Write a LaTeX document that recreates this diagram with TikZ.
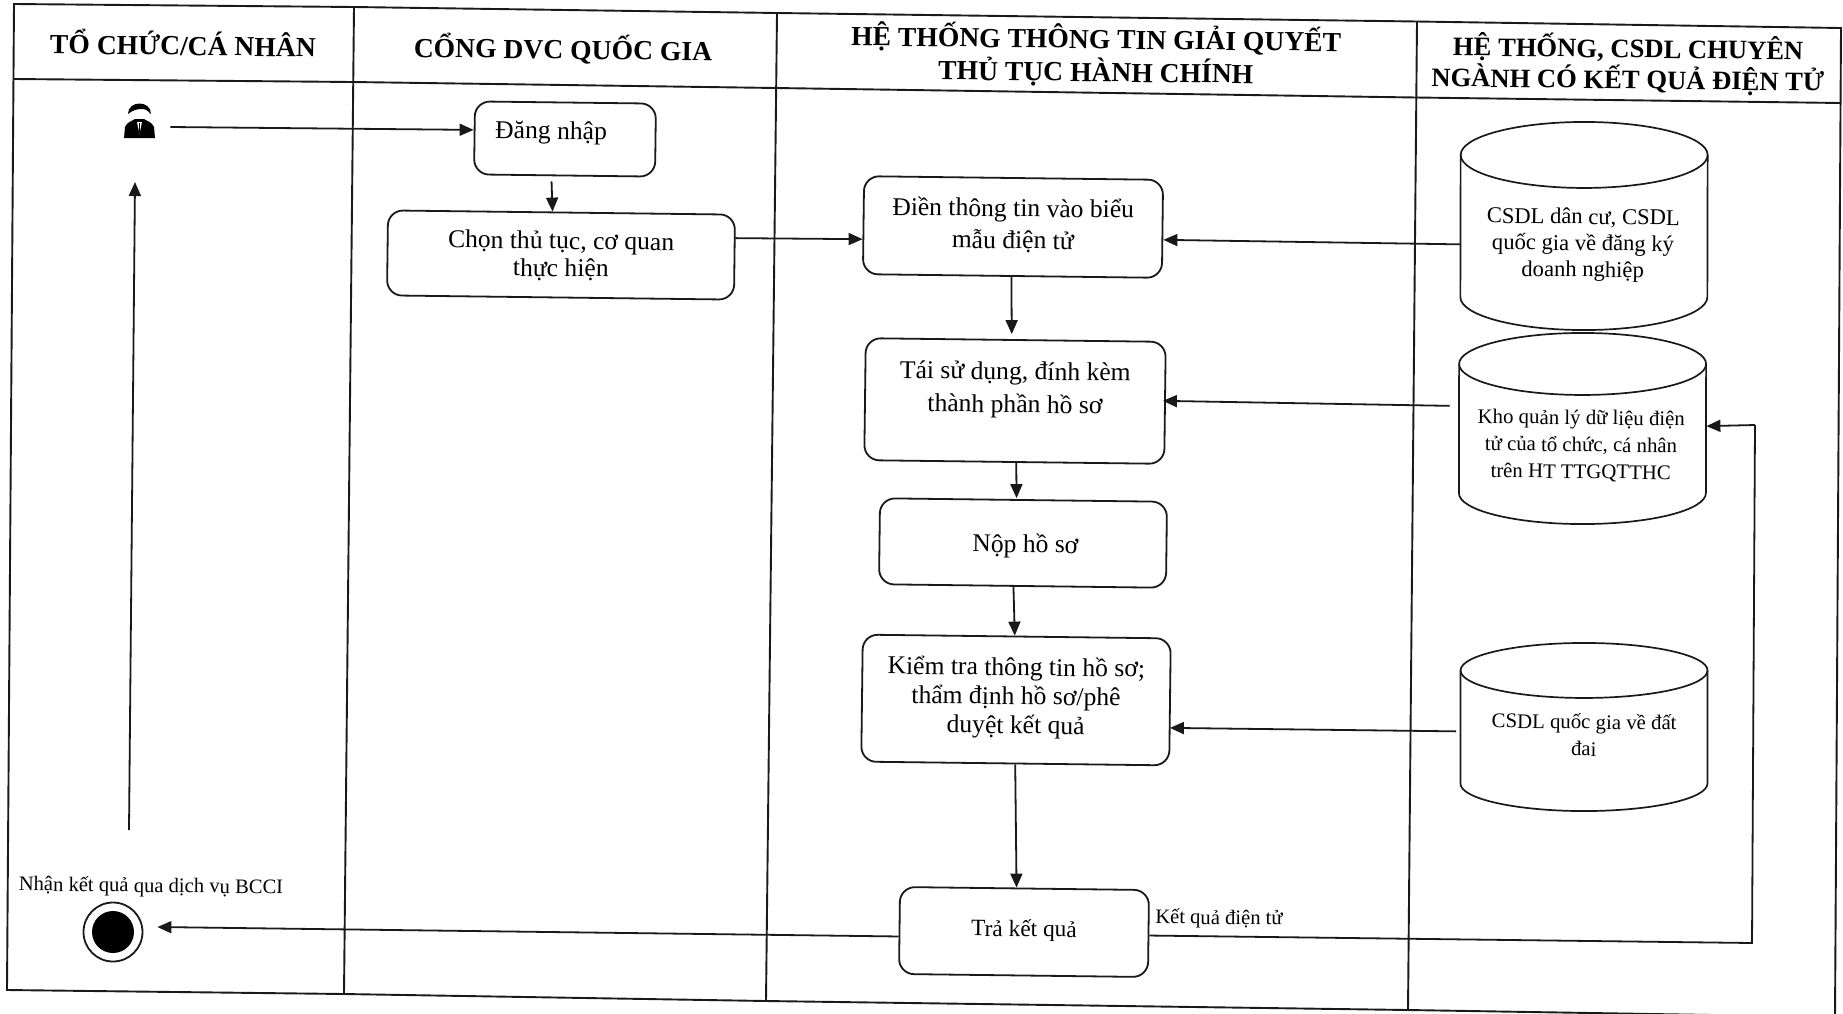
\documentclass[tikz,border=0pt]{standalone}
\usepackage{fontspec}
\setmainfont{Liberation Serif}
\usetikzlibrary{shapes.geometric,arrows.meta,calc}
% px to pt: 1 px = 0.5 pt
\newcommand\bt[4]{\parbox[c][#2][c]{#1}{\centering #4\par\vspace{#3}}}
\newcommand\cylshape[3]{%
  \draw[cylline] ($(#1.north west)+(0,#3)$) arc[start angle=180,end angle=360,x radius=#2,y radius=#3]
    -- ($(#1.south east)+(0,-#3)$) arc[start angle=0,end angle=180,x radius=#2,y radius=#3] -- cycle;
  \draw[cylline] ($(#1.north west)+(0,#3)$) arc[start angle=180,end angle=0,x radius=#2,y radius=#3];
}
\tikzset{
  frameline/.style={line width=0.95pt,black!90},
  arr/.style={line width=0.9pt,black!90,-{Triangle[length=7pt,width=6pt]}},
  plain/.style={line width=0.9pt,black!90},
  boxnode/.style={draw=black!90,line width=0.9pt,rounded corners=7.5pt,rectangle,inner sep=0pt,rotate=-0.7,font=\fontsize{12.8}{14}\selectfont},
  head/.style={rotate=-0.7,inner sep=0pt,align=center,font=\fontsize{13.8}{16}\selectfont\bfseries},
  cyl/.style={rectangle,inner sep=0pt,minimum width=123.5pt,rotate=-0.3},
  cylline/.style={line width=0.85pt,black!90},
  cyltext/.style={rotate=-0.7,inner sep=0pt,align=center,font=\fontsize{10.4}{13.5}\selectfont},
  small/.style={rotate=-0.7,inner sep=0pt,font=\fontsize{10.3}{12}\selectfont},
}
\begin{document}
\begin{tikzpicture}[x=0.5pt,y=-0.5pt]
\useasboundingbox (0,0) rectangle (1843,1013);
\clip (0,0) rectangle (1843,1013);
% frame
\coordinate (tl) at (14,4); \coordinate (t1) at (354,7); \coordinate (t2) at (777,13); \coordinate (t3) at (1417,21.5); \coordinate (tr) at (1841,28);
\coordinate (hl) at (13.5,79); \coordinate (h1) at (353,82); \coordinate (h2) at (776,88); \coordinate (h3) at (1416,97.5); \coordinate (hr) at (1841,103);
\coordinate (bl) at (7,990); \coordinate (b1) at (344,994); \coordinate (b2) at (766,1001); \coordinate (b3) at (1408,1010); \coordinate (br) at (1835,1017);
\draw[frameline] (tl)--(t1)--(t2)--(t3)--(tr)--(br)--(b3)--(b2)--(b1)--(bl)--cycle;
\draw[frameline] (hl)--(h1)--(h2)--(h3)--(hr);
\draw[frameline] (t1)--(b1); \draw[frameline] (t2)--(b2); \draw[frameline] (t3)--(b3);
% headers
\node[head] (h-a) at (183,43) {TỔ CHỨC/CÁ NHÂN};
\node[head] (h-b) at (563,49) {CỔNG DVC QUỐC GIA};
\node[head,font=\fontsize{13.8}{16.5}\selectfont\bfseries] (h-c) at (1096,55.5) {HỆ THỐNG THÔNG TIN GIẢI QUYẾT\\THỦ TỤC HÀNH CHÍNH};
\node[head,font=\fontsize{13.3}{15.5}\selectfont\bfseries] (h-d) at (1628,64) {HỆ THỐNG, CSDL CHUYÊN\\NGÀNH CÓ KẾT QUẢ ĐIỆN TỬ};
% person icon
\node[inner sep=0pt,minimum width=15.5pt,minimum height=17pt] (person) at (139.5,121) {};
\fill[black] (124,138) -- (125,127) .. controls (127,122) and (132,121) .. (135,119) -- (144,119) .. controls (147,121) and (152,122) .. (154,127) -- (155,138) -- cycle;
\fill[black] (128,114) .. controls (128,100) and (151,100) .. (151,114) .. controls (148,111) and (146,109) .. (142,109) .. controls (137,109) and (133,110) .. (128,114) -- cycle;
\fill[white] (137,122) -- (139.5,134) -- (142,122) -- cycle;
\fill[black] (138.7,123) rectangle (140.3,133);
% boxes
\node[boxnode] (login) at (565,139) {\bt{90.5pt}{36.5pt}{6pt}{Đăng nhập\hspace*{14pt}}};
\node[boxnode] (choose) at (561,255) {\parbox[c][42.5pt][c]{173.5pt}{\baselineskip=13.8pt\centering Chọn thủ tục, cơ quan\\thực hiện\par\vspace{-1pt}}};
\node[boxnode] (fill) at (1013,227) {\parbox[c][49pt][c]{149.5pt}{\baselineskip=16pt\centering Điền thông tin vào biểu\\mẫu điện tử\par\vspace{1.5pt}}};
\node[boxnode] (reuse) at (1015,401) {\parbox[c][61pt][c]{150pt}{\baselineskip=16.5pt\centering Tái sử dụng, đính kèm\\thành phần hồ sơ\par\vspace{11pt}}};
\node[boxnode] (submit) at (1023,543) {\bt{143.5pt}{43pt}{-3pt}{\hspace*{2.4pt}Nộp hồ sơ}};
\node[boxnode] (check) at (1016,700) {\parbox[c][63.5pt][c]{154pt}{\baselineskip=14.5pt\centering Kiểm tra thông tin hồ sơ;\\thẩm định hồ sơ/phê\\duyệt kết quả\par\vspace{2pt}}};
\node[boxnode,font=\fontsize{11.7}{13}\selectfont] (result) at (1024,932) {\bt{124.5pt}{43.5pt}{1.5pt}{Trả kết quả}};
% cylinders
\node[cyl,minimum height=103pt] (db1) at (1584,226) {};
\node[cyl,minimum height=94.5pt] (db2) at (1582.5,428.5) {};
\node[cyl,minimum height=83pt] (db3) at (1584,727) {};
\cylshape{db1}{123.5}{33}
\cylshape{db2}{123.5}{31}
\cylshape{db3}{123.5}{27.5}
\node[cyltext,font=\fontsize{11.3}{13.2}\selectfont] (db1t) at (1583,245) {CSDL dân cư, CSDL\\quốc gia về đăng ký\\doanh nghiệp};
\node[cyltext] (db2t) at (1581,446) {Kho quản lý dữ liệu điện\\tử của tổ chức, cá nhân\\trên HT TTGQTTHC};
\node[cyltext] (db3t) at (1584,735) {CSDL quốc gia về đất\\đai};
% end state
\node[circle,draw=black!90,line width=0.9pt,minimum size=29.5pt,inner sep=0pt] (endst) at (113,932) {};
\node[circle,fill=black,minimum size=21pt,inner sep=0pt] (endin) at (endst.center) {};
\node[small] (endt) at (151,887) {Nhận kết quả qua dịch vụ BCCI};
\node[small] (kq) at (1219,919) {Kết quả điện tử};
% connectors
\coordinate (upstart) at (129,830);
\coordinate (uptip) at (135,182);
\draw[arr] (upstart) -- (uptip);
\draw[arr] ([xshift=7.5pt,yshift=-3pt]person.east) -- ([yshift=4pt]login.west);
\draw[arr] ([xshift=-6.5pt,yshift=-2.5pt]login.south) -- ([xshift=-4.5pt]choose.north);
\draw[arr] ([yshift=9.5pt]choose.east) -- ([yshift=-7pt]fill.west);
\draw[arr] ([yshift=-9.5pt]db1.west) -- ([yshift=-5.5pt]fill.east);
\draw[arr] ([xshift=-.5pt]fill.south) -- ([xshift=-2pt,yshift=2.5pt]reuse.north);
\draw[arr] ([xshift=-4.5pt,yshift=11pt]db2.west) -- ([xshift=-1.5pt,yshift=1pt]reuse.east);
\draw[arr] ([xshift=1pt]reuse.south) -- ([xshift=-3.5pt,yshift=.5pt]submit.north);
\draw[arr] ([xshift=-4.5pt]submit.south) -- ([xshift=-1pt]check.north);
\draw[arr] ([xshift=-2pt,yshift=-2.5pt]db3.west) -- ([xshift=-.5pt,yshift=-13pt]check.east);
\draw[arr] (check.south) -- ([xshift=-4pt]result.north);
\draw[arr] ([yshift=-3pt]result.west) -- ([xshift=7pt,yshift=2.5pt]endst.east);
\coordinate (rbend) at (1752,943);
\coordinate (rtop) at (1755,425);
\draw[plain] ([yshift=-1pt]result.east) -- (rbend) -- (rtop);
\draw[arr] (rtop) -- ([yshift=1.5pt]db2.east);
\end{tikzpicture}
\end{document}
